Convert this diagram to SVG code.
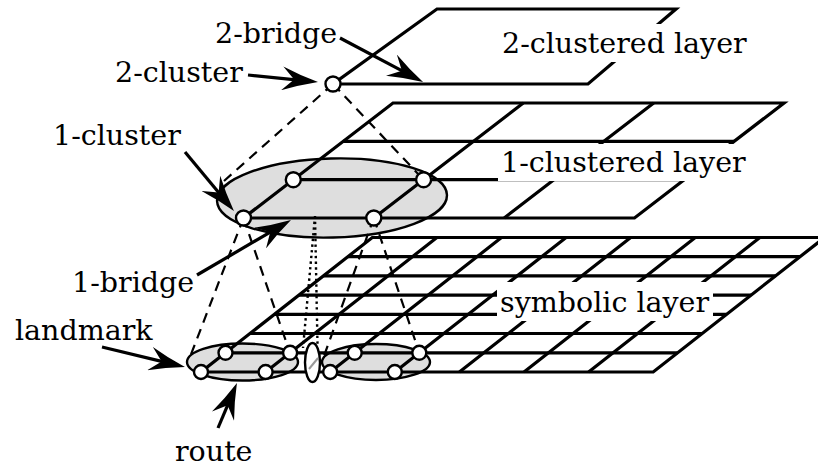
<svg xmlns="http://www.w3.org/2000/svg" width="818" height="469" viewBox="0 0 818 469">
<style>
.ln{stroke:#000;stroke-width:3.2;fill:none;stroke-linejoin:miter}
.dash{stroke:#000;stroke-width:2.2;stroke-dasharray:10 7;fill:none}
.dot{stroke:#000;stroke-width:2.4;stroke-dasharray:2.4 3.3;fill:none}
.cl{fill:#dedede;stroke:#000;stroke-width:2.4}
.nd{fill:#fff;stroke:#000;stroke-width:2.4}
.bg{fill:#fff;stroke:none}
.t{font-family:"DejaVu Serif","Liberation Serif",serif;font-size:28.5px;fill:#000}
.ar{stroke:#000;stroke-width:3.2;fill:none;marker-end:url(#ah)}
</style>
<defs>
<marker id="ah" markerUnits="userSpaceOnUse" viewBox="0 0 36 24" markerWidth="36" markerHeight="24" refX="14" refY="12" orient="auto">
<path d="M36,12 Q17,7 0,0 L12,12 L0,24 Q17,17 36,12 Z" fill="#000"/>
</marker>
</defs>
<rect width="818" height="469" fill="#fff"/>

<g id="layer-2">
<path class="ln" d="M333,84 L588,84 L676,9 L437,9 Z"/>
<rect class="bg" x="495" y="24" width="262" height="38"/>
<text class="t" x="502" y="53">2-clustered layer</text>
</g>

<g id="landmark-clusters">
<ellipse class="cl" cx="242.5" cy="362" rx="55.5" ry="18.5"/>
<ellipse class="cl" cx="376" cy="362" rx="54" ry="18"/>
</g>

<g id="symbolic-layer">
<path class="ln" d="M201,372 L653.2,372 L824.5,237.5 L372.3,237.5 Z"/>
<path class="ln" d="M347.9,256.7H799.9 M323.4,275.9H775.4 M299,295.1H751 M274.5,314.3H726.5 M250,333.5H702 M225.5,352.8H677.5"/>
<path class="ln" d="M265.6,372L436.9,237.5 M330.2,372L501.5,237.5 M394.8,372L566.1,237.5 M459.4,372L630.7,237.5 M524,372L695.3,237.5 M588.6,372L759.9,237.5"/>
<rect class="bg" x="497" y="282" width="216" height="39"/>
<text class="t" x="500" y="312">symbolic layer</text>
</g>

<g id="bridge-0">
<ellipse cx="312.5" cy="362.5" rx="7.5" ry="19.5" fill="#fff" stroke="#000" stroke-width="2.4"/>
<line x1="309" y1="369" x2="318" y2="358" stroke="#999" stroke-width="2"/>
</g>

<g id="cluster-1">
<ellipse class="cl" cx="332" cy="198" rx="115" ry="39.5" transform="rotate(-1.5 332 198)"/>
</g>

<g id="layer-1">
<path class="ln" d="M243.5,218 L634.5,218 L784,103 L393,103 Z"/>
<path class="ln" d="M343.2,141.3H734.2 M293.3,179.7H684.3"/>
<path class="ln" d="M523.3,103L373.8,218 M653.7,103L504.2,218"/>
<rect class="bg" x="498" y="144" width="252" height="37"/>
<text class="t" x="501" y="172">1-clustered layer</text>
</g>

<g id="connectors">
<path class="dash" d="M333,84 L224,181 M333,84 L423.6,179.7 M243.5,218 L190,357 M243.5,218 L290,353 M373.8,218 L324,356 M373.8,218 L419.3,352.8"/>
<path class="dot" d="M315,216 L303,348 M315,216 L317.5,345"/>
<line class="ar" x1="340" y1="38" x2="403.6" y2="71.7"/>
<line class="ar" x1="248" y1="75" x2="296.1" y2="79.8"/>
<line class="ar" x1="185" y1="152" x2="219.9" y2="194.1"/>
<line class="ar" x1="197" y1="275" x2="272" y2="231.1"/>
<line class="ar" x1="102" y1="347" x2="163.6" y2="361.9"/>
<line class="ar" x1="218" y1="428" x2="228.4" y2="403.3"/>
</g>

<g id="nodes">
<circle class="nd" cx="333" cy="84" r="7.5"/>
<circle class="nd" cx="243.5" cy="218" r="7.5"/>
<circle class="nd" cx="373.8" cy="218" r="7.5"/>
<circle class="nd" cx="293.3" cy="179.7" r="7.5"/>
<circle class="nd" cx="423.6" cy="179.7" r="7.5"/>
<circle class="nd" cx="201" cy="372" r="7"/>
<circle class="nd" cx="225.5" cy="352.8" r="7"/>
<circle class="nd" cx="265.6" cy="372" r="7"/>
<circle class="nd" cx="290.1" cy="352.8" r="7"/>
<circle class="nd" cx="330.2" cy="372" r="7"/>
<circle class="nd" cx="354.7" cy="352.8" r="7"/>
<circle class="nd" cx="394.8" cy="372" r="7"/>
<circle class="nd" cx="419.3" cy="352.8" r="7"/>
</g>

<g id="labels">
<text class="t" x="215" y="43">2-bridge</text>
<text class="t" x="115" y="82">2-cluster</text>
<text class="t" x="53" y="145">1-cluster</text>
<text class="t" x="72" y="292">1-bridge</text>
<text class="t" x="15" y="340">landmark</text>
<text class="t" x="175" y="461">route</text>
</g>
</svg>
